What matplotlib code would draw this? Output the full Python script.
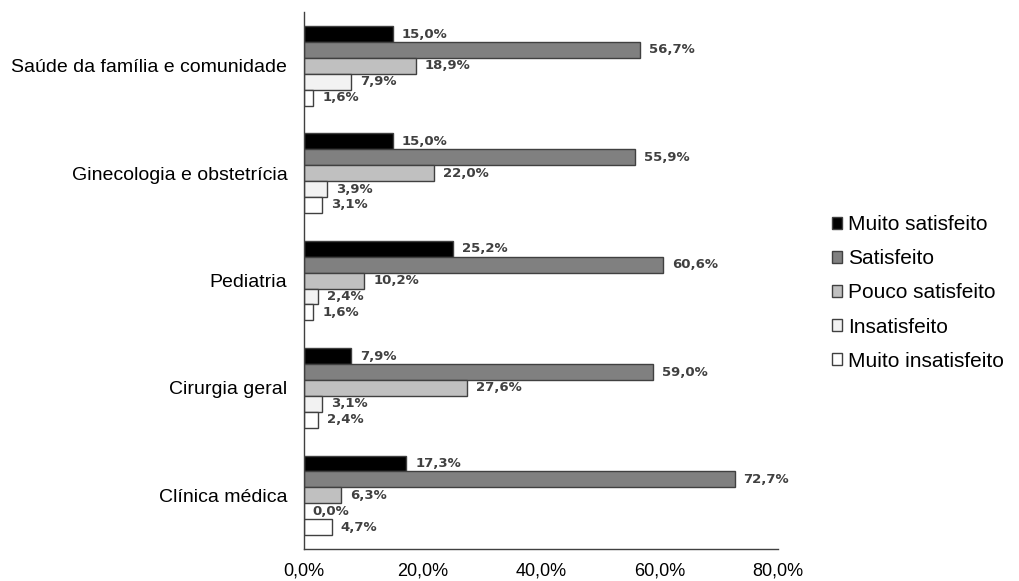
import numpy as np
import matplotlib.pyplot as plt

# Satisfaction by specialty (bottom to top on the chart)
specialties = ['Clínica médica', 'Cirurgia geral', 'Pediatria',
               'Ginecologia e obstetrícia', 'Saúde da família e comunidade']
levels = ['Muito satisfeito', 'Satisfeito', 'Pouco satisfeito',
          'Insatisfeito', 'Muito insatisfeito']

muito_satisfeito = [17.3, 7.9, 25.2, 15.0, 15.0]
satisfeito = [72.7, 59.0, 60.6, 55.9, 56.7]
pouco_satisfeito = [6.3, 27.6, 10.2, 22.0, 18.9]
insatisfeito = [0.0, 3.1, 2.4, 3.9, 7.9]
muito_insatisfeito = [4.7, 2.4, 1.6, 3.1, 1.6]

series = [muito_satisfeito, satisfeito, pouco_satisfeito, insatisfeito, muito_insatisfeito]
colors = ['#000000', '#808080', '#c0c0c0', '#f2f2f2', '#ffffff']

plt.rcParams['font.family'] = ['Liberation Sans', 'DejaVu Sans']

fig = plt.figure(figsize=(10.19, 5.81), dpi=100)
ax = fig.add_axes([0.2983, 0.0551, 0.465, 0.924])

y = np.arange(len(specialties))
h = 0.148
offsets = [2 * h, h, 0, -h, -2 * h]

for vals, col, off, name in zip(series, colors, offsets, levels):
    bars = ax.barh(y + off, vals, height=h, color=col, edgecolor='#404040',
                   linewidth=1.0, label=name)
    for b, v in zip(bars, vals):
        ax.text(v + 1.5, b.get_y() + b.get_height() / 2,
                f'{v:.1f}%'.replace('.', ','), va='center', ha='left',
                fontsize=9.5, fontweight='bold', color='#404040',
                family='DejaVu Sans')

ax.set_xlim(0, 80)
ax.set_ylim(-0.5, len(specialties) - 0.5)
ax.set_xticks([0, 20, 40, 60, 80])
ax.set_xticklabels(['0,0%', '20,0%', '40,0%', '60,0%', '80,0%'], fontsize=13)
ax.set_yticks(y)
ax.set_yticklabels(specialties, fontsize=14)
ax.tick_params(axis='y', length=0, pad=12)
ax.tick_params(axis='x', length=0, pad=10)
for s in ['top', 'right']:
    ax.spines[s].set_visible(False)
for s in ['left', 'bottom']:
    ax.spines[s].set_color('#404040')
    ax.spines[s].set_linewidth(1.0)

leg = ax.legend(loc='center left', bbox_to_anchor=(1.074, 0.477), frameon=False,
                fontsize=15, handlelength=0.5, handleheight=0.5,
                handletextpad=0.3, labelspacing=0.73)

fig.savefig('out.png', dpi=100)
